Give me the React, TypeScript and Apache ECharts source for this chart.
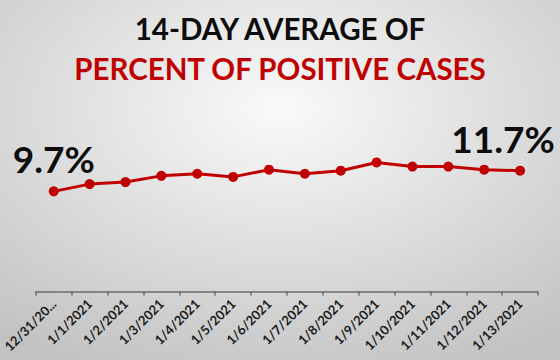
import React, { useEffect, useRef } from "react";
import * as echarts from "echarts";

const categories = [
  "12/31/2020", "1/1/2021", "1/2/2021", "1/3/2021", "1/4/2021", "1/5/2021", "1/6/2021",
  "1/7/2021", "1/8/2021", "1/9/2021", "1/10/2021", "1/11/2021", "1/12/2021", "1/13/2021",
];
const values = [9.7, 10.4, 10.6, 11.2, 11.4, 11.1, 11.8, 11.4, 11.7, 12.5, 12.1, 12.1, 11.8, 11.7];
const titleLine1 = "14-DAY AVERAGE OF";
const titleLine2 = "PERCENT OF POSITIVE CASES";

export default function App() {
  const ref = useRef<HTMLDivElement>(null);
  useEffect(() => {
    const chart = echarts.init(ref.current!, null, { renderer: "svg" });
    const last = values.length - 1;
    const data = values.map((v, i) => {
      if (i === 0 || i === last) {
        return {
          value: v,
          label: {
            show: true,
            position: "top",
            distance: 9,
            offset: i === last ? [-17, 0] : [0, 0],
            formatter: (p: any) => p.value.toFixed(1) + "%",
            fontFamily: "Lato",
            fontWeight: "bold",
            fontSize: 37,
            color: "#0d0d0d",
          },
        };
      }
      return { value: v };
    });
    chart.setOption({
      animation: false,
      backgroundColor: {
        type: "radial",
        x: 0.5,
        y: 0.3,
        r: 0.8,
        colorStops: [
          { offset: 0, color: "#fafafa" },
          { offset: 1, color: "#c2c2c2" },
        ],
      },
      title: [
        {
          text: titleLine1,
          left: "center",
          top: 8,
          textStyle: { fontFamily: "Lato", fontWeight: "bold", fontSize: 29.5, color: "#0d0d0d" },
        },
        {
          text: titleLine2,
          left: "center",
          top: 48.5,
          textStyle: { fontFamily: "Lato", fontWeight: "bold", fontSize: 29.5, color: "#c00000" },
        },
      ],
      grid: { left: 34, right: 22, top: 85, bottom: 68.5, containLabel: false },
      xAxis: {
        type: "category",
        data: categories,
        boundaryGap: true,
        axisLine: { lineStyle: { color: "#6b6b6b", width: 1.5 } },
        axisTick: { show: true, length: 4, lineStyle: { color: "#6b6b6b", width: 1.5 } },
        axisLabel: {
          interval: 0,
          rotate: 45,
          margin: 10,
          fontFamily: "Lato",
          fontWeight: "bold",
          fontSize: 13,
          color: "#1a1a1a",
          formatter: (v: string) => (v.length > 9 ? v.slice(0, 8) + "..." : v),
        },
      },
      yAxis: {
        type: "value",
        min: 0,
        max: 20,
        show: false,
        splitLine: { show: false },
      },
      series: [
        {
          type: "line",
          data,
          symbol: "circle",
          symbolSize: 10,
          lineStyle: { color: "#c00000", width: 3 },
          itemStyle: { color: "#c00000" },
        },
      ],
    });
    return () => chart.dispose();
  }, []);
  return <div ref={ref} style={{ width: 560, height: 360, position: "absolute", left: 0, top: 0 }} />;
}
